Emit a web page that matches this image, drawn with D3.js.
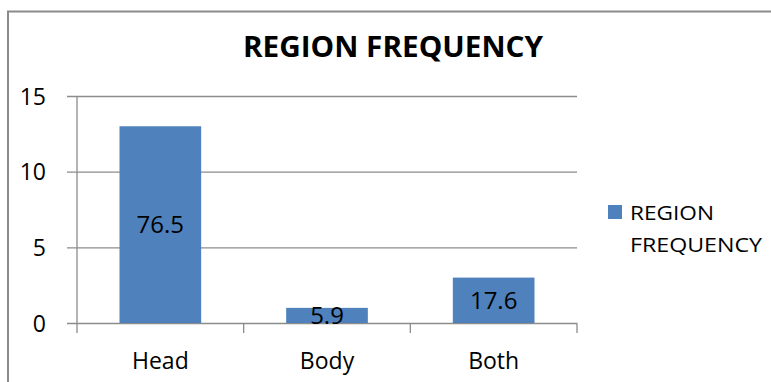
<!DOCTYPE html>
<html>
<head>
<meta charset="utf-8">
<script src="https://cdn.jsdelivr.net/npm/d3@7/dist/d3.min.js"></script>
<style>
  html, body { margin: 0; padding: 0; background: #fff; }
  svg { display: block; }
  text { font-family: "Open Sans", "Liberation Sans", sans-serif; fill: #000; }
</style>
</head>
<body>
<svg id="chart" width="771" height="382"></svg>
<script>
// Region frequency: counts per region, labelled with their share in percent
const categories = ["Head", "Body", "Both"];
const frequency = [13, 1, 3];
const percentLabels = [76.5, 5.9, 17.6];
const yTicks = [0, 5, 10, 15];
const seriesName = "REGION FREQUENCY";

const svg = d3.select("#chart");
const W = 771, H = 382;
const barColor = "#4f81bd";
const gridColor = "#8c8c8c";

// outer chart frame (runs off the right and bottom edges)
svg.append("path")
  .attr("d", `M8,${H + 5} L8,11.5 L${W + 5},11.5`)
  .attr("fill", "none")
  .attr("stroke", "#8a8a8a")
  .attr("stroke-width", 2);

const plot = { left: 77, right: 577, top: 96, bottom: 323 };

const x = d3.scaleBand()
  .domain(categories)
  .range([plot.left, plot.right])
  .paddingInner(0.51)
  .paddingOuter(0.255);

const y = d3.scaleLinear()
  .domain([0, 15])
  .range([plot.bottom, plot.top]);

// title
svg.append("text")
  .attr("x", 393)
  .attr("y", 57)
  .attr("text-anchor", "middle")
  .attr("font-size", 28)
  .attr("font-weight", 700)
  .attr("textLength", 300)
  .attr("lengthAdjust", "spacingAndGlyphs")
  .text("REGION FREQUENCY");

// horizontal gridlines + y axis labels
const yAxis = d3.axisLeft(y)
  .tickValues(yTicks)
  .tickSize(-(plot.right - plot.left))
  .tickPadding(0)
  .tickFormat(d3.format("d"));

const gy = svg.append("g")
  .attr("transform", `translate(${plot.left},0)`)
  .call(yAxis);
gy.select(".domain").remove();
gy.selectAll(".tick line")
  .attr("stroke", gridColor)
  .attr("stroke-width", 1.3)
  .attr("x1", -10);
gy.selectAll(".tick text")
  .attr("x", -31)
  .attr("font-size", 23)
  .attr("font-family", "Open Sans, sans-serif")
  .attr("fill", "#000")
  .attr("dy", "0.36em");

// vertical axis line
svg.append("line")
  .attr("x1", plot.left).attr("x2", plot.left)
  .attr("y1", plot.top).attr("y2", plot.bottom + 10)
  .attr("stroke", gridColor)
  .attr("stroke-width", 1.3);

// bars
svg.append("g")
  .selectAll("rect")
  .data(categories)
  .join("rect")
  .attr("x", d => x(d))
  .attr("width", x.bandwidth())
  .attr("y", (d, i) => y(frequency[i]))
  .attr("height", (d, i) => y(0) - y(frequency[i]))
  .attr("fill", barColor);

// x axis with category separators
const xAxis = d3.axisBottom(x).tickSize(0);
const gx = svg.append("g")
  .attr("transform", `translate(0,${plot.bottom})`)
  .call(xAxis);
gx.select(".domain").remove();
gx.selectAll(".tick text")
  .attr("font-size", 23)
  .attr("font-family", "Open Sans, sans-serif")
  .attr("fill", "#000")
  .attr("y", 46)
  .attr("dy", 0);

const step = x.step();
const bounds = categories.map((c, i) => plot.left + step * (i + 1));
svg.append("g")
  .selectAll("line")
  .data(bounds)
  .join("line")
  .attr("x1", d => d).attr("x2", d => d)
  .attr("y1", plot.bottom).attr("y2", plot.bottom + 10)
  .attr("stroke", gridColor)
  .attr("stroke-width", 1.3);

// percentage labels centred in each bar
svg.append("g")
  .selectAll("text")
  .data(categories)
  .join("text")
  .attr("x", d => x(d) + x.bandwidth() / 2)
  .attr("y", (d, i) => (y(frequency[i]) + y(0)) / 2)
  .attr("dy", "0.36em")
  .attr("text-anchor", "middle")
  .attr("font-size", 24)
  .text((d, i) => percentLabels[i]);

// legend
const lg = svg.append("g");
lg.append("rect")
  .attr("x", 608).attr("y", 205)
  .attr("width", 14).attr("height", 14)
  .attr("fill", barColor);
const words = seriesName.split(" ");
const wordWidths = [84, 132];
lg.selectAll("text")
  .data(words)
  .join("text")
  .attr("x", 630)
  .attr("y", (d, i) => 220 + i * 32)
  .attr("font-size", 20)
  .attr("textLength", (d, i) => wordWidths[i])
  .attr("lengthAdjust", "spacingAndGlyphs")
  .text(d => d);
</script>
</body>
</html>
